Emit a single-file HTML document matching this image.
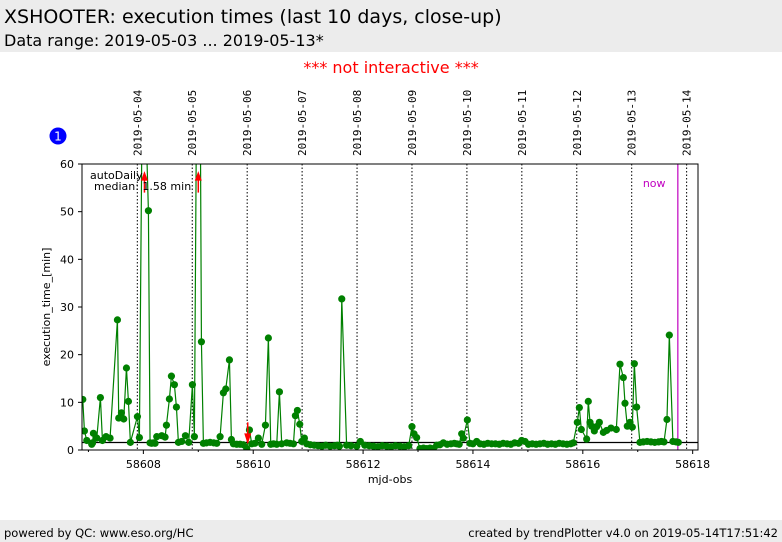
<!DOCTYPE html>
<html><head><meta charset="utf-8"><style>
body{margin:0;width:782px;height:542px;background:#fff;font-family:"DejaVu Sans","Liberation Sans",sans-serif;position:relative;overflow:hidden}
#hdr{position:absolute;left:0;top:0;width:782px;height:52px;background:#ececec}
#t1{position:absolute;left:4px;top:6px;font-size:19px;color:#000}
#t2{position:absolute;left:4px;top:31px;font-size:16px;color:#000}
#ni{position:absolute;left:0;width:782px;top:58px;text-align:center;color:#f00;font-size:16px}
#ftr{position:absolute;left:0;top:520px;width:782px;height:22px;background:#ececec;font-size:11.5px}
#ftr span{position:absolute;top:6px}
</style></head><body>
<div id="hdr">
<div id="t1">XSHOOTER: execution times (last 10 days, close-up)</div>
<div id="t2">Data range: 2019-05-03 ... 2019-05-13*</div></div>
<div id="ni">*** not interactive ***</div>
<svg id="ch" width="782" height="542" style="position:absolute;left:0;top:0"></svg>
<div id="ftr"><span style="left:4px">powered by QC: www.eso.org/HC</span><span style="right:4px">created by trendPlotter v4.0 on 2019-05-14T17:51:42</span></div>
<script>
const mjd=[58606.897,58606.927,58606.97,58607.06,58607.075,58607.091,58607.152,58607.218,58607.255,58607.321,58607.394,58607.528,58607.552,58607.601,58607.643,58607.692,58607.728,58607.764,58607.892,58607.928,58607.983,58608.019,58608.092,58608.122,58608.15,58608.183,58608.213,58608.244,58608.335,58608.395,58608.420,58608.474,58608.511,58608.565,58608.602,58608.638,58608.699,58608.766,58608.826,58608.893,58608.929,58608.972,58609.033,58609.057,58609.093,58609.15,58609.215,58609.28,58609.336,58609.397,58609.457,58609.500,58609.567,58609.603,58609.639,58609.70,58609.761,58609.82,58609.882,58609.931,58609.973,58610.03,58610.094,58610.155,58610.222,58610.276,58610.319,58610.37,58610.428,58610.477,58610.519,58610.610,58610.67,58610.732,58610.768,58610.804,58610.847,58610.883,58610.932,58610.974,58611.04,58611.11,58611.18,58611.25,58611.32,58611.40,58611.48,58611.53,58611.569,58611.612,58611.70,58611.78,58611.885,58611.95,58612.03,58612.11,58612.19,58612.27,58612.35,58612.43,58612.51,58612.59,58612.67,58612.75,58612.83,58612.89,58612.927,58612.975,58613.036,58613.10,58613.16,58613.22,58613.279,58613.340,58613.40,58613.461,58613.53,58613.60,58613.66,58613.704,58613.75,58613.795,58613.825,58613.898,58613.946,58614.00,58614.068,58614.13,58614.20,58614.27,58614.34,58614.41,58614.48,58614.55,58614.62,58614.69,58614.76,58614.83,58614.887,58614.948,58615.01,58615.08,58615.15,58615.22,58615.29,58615.36,58615.43,58615.50,58615.57,58615.64,58615.71,58615.78,58615.827,58615.900,58615.937,58615.973,58616.070,58616.100,58616.131,58616.161,58616.210,58616.252,58616.301,58616.374,58616.434,58616.513,58616.610,58616.677,58616.738,58616.768,58616.810,58616.859,58616.901,58616.938,58616.980,58617.04,58617.10,58617.17,58617.24,58617.31,58617.38,58617.43,58617.478,58617.532,58617.575,58617.64,58617.70,58617.739];
const val=[10.6,4,2,1.2,1.5,3.5,2.5,11,2,2.8,2.5,27.3,6.7,7.8,6.5,17.2,10.2,1.6,7,2.6,80,80,50.2,1.5,1.4,1.5,1.4,2.8,3,2.7,5.2,10.7,15.5,13.7,9,1.6,1.8,3,1.6,13.7,2.8,80,80,22.7,1.4,1.5,1.6,1.5,1.4,2.8,12,12.8,18.9,2.2,1.3,1.2,1.2,1.1,0.3,4.2,1.3,1.4,2.5,1.2,5.2,23.5,1.2,1.3,1.2,12.2,1.3,1.5,1.4,1.3,7.2,8.3,5.4,1.8,2.5,1.3,1.1,1,0.9,0.8,1,0.8,0.9,1,0.8,31.7,1,0.9,0.8,1.8,1,0.9,0.8,0.7,0.9,0.8,0.7,0.9,0.8,0.7,0.9,4.9,3.4,2.6,0.3,0.4,0.3,0.4,0.3,1.0,1.1,1.5,1.2,1.3,1.4,1.3,1.2,3.4,2.5,6.3,1.4,1.3,1.8,1.3,1.2,1.4,1.3,1.3,1.2,1.4,1.3,1.2,1.5,1.4,2.0,1.8,1.2,1.3,1.2,1.3,1.4,1.2,1.3,1.2,1.4,1.3,1.2,1.3,1.5,5.8,8.9,4.3,2.3,10.2,5.8,5,4,4.9,5.8,3.7,4.1,4.6,4.3,18,15.2,9.8,5,5.8,4.8,18.1,9,1.6,1.7,1.8,1.7,1.6,1.7,1.8,1.7,6.4,24.1,1.8,1.7,1.6,1.6];
const arrowsUp=[58608.02,58609.00];
const arrowsDown=[58609.90];
const dateLabels=["2019-05-04","2019-05-05","2019-05-06","2019-05-07","2019-05-08","2019-05-09","2019-05-10","2019-05-11","2019-05-12","2019-05-13","2019-05-14"];
const xTicks=[58608,58610,58612,58614,58616,58618];
const yTicks=[0,10,20,30,40,50,60];
const median=1.58, nowMjd=58617.73, firstDate=58607.89;
const X0=82,X1=698,Y0=450,Y1=164,XMIN=58606.883,XMAX=58618.097,YMAX=60;
const sx=v=>X0+(v-XMIN)/(XMAX-XMIN)*(X1-X0);
const sy=v=>Y0-v/YMAX*(Y0-Y1);
const svg=document.getElementById('ch');const NS='http://www.w3.org/2000/svg';
function mk(t,a,p){const e=document.createElementNS(NS,t);for(const k in a)e.setAttribute(k,a[k]);(p||svg).appendChild(e);return e;}
const cp=mk('clipPath',{id:'cp'});mk('rect',{x:X0,y:Y1,width:X1-X0,height:Y0-Y1},cp);
dateLabels.forEach((d,i)=>{const x=sx(firstDate+i);
 const l=mk('line',{x1:x,x2:x,y1:Y1,y2:Y0,stroke:'#000','stroke-width':1,'stroke-dasharray':'1.5,2'});
 
 const t=mk('text',{x:0,y:0,transform:`translate(${x+4},156) rotate(-90)`,'font-size':11,'font-family':'"DejaVu Sans Mono","Liberation Mono",monospace',fill:'#000'});
 t.textContent=d;});
const md=mk('line',{x1:X0,x2:X1,y1:sy(median),y2:sy(median),stroke:'#000','stroke-width':1.2});

const nw=mk('line',{x1:sx(nowMjd),x2:sx(nowMjd),y1:Y1,y2:Y0,stroke:'#c000c0','stroke-width':1.2});

const nt=mk('text',{x:sx(nowMjd)-35,y:187,'font-size':11,fill:'#c000c0'});nt.textContent='now';

const g=mk('g',{'clip-path':'url(#cp)'});
const pts=mjd.map((m,i)=>sx(m)+','+sy(val[i])).join(' ');
const pl=mk('polyline',{points:pts,fill:'none',stroke:'#008000','stroke-width':1.2},g);

mjd.forEach((m,i)=>{const c=mk('circle',{cx:sx(m),cy:sy(val[i]),r:3.6,fill:'#008000'},g);
 });
arrowsUp.forEach(m=>{const x=sx(m);const a=mk('g',{});
 mk('line',{x1:x,x2:x,y1:sy(54),y2:sy(58),stroke:'#f00','stroke-width':1.5},a);
 mk('polygon',{points:`${x-3.5},${sy(56.5)} ${x+3.5},${sy(56.5)} ${x},${sy(58.5)}`,fill:'#f00'},a);});
arrowsDown.forEach(m=>{const x=sx(m);const a=mk('g',{});
 mk('line',{x1:x,x2:x,y1:sy(5.8),y2:sy(1.5),stroke:'#f00','stroke-width':1.5},a);
 mk('polygon',{points:`${x-3.5},${sy(3.5)} ${x+3.5},${sy(3.5)} ${x},${sy(1.2)}`,fill:'#f00'},a);});
const fr=mk('rect',{x:X0,y:Y1,width:X1-X0,height:Y0-Y1,fill:'none',stroke:'#000','stroke-width':1});

yTicks.forEach(v=>{const y=sy(v);mk('line',{x1:X0-4,x2:X0,y1:y,y2:y,stroke:'#000'});
 const t=mk('text',{x:X0-8,y:y+4,'text-anchor':'end','font-size':11,fill:'#000'});t.textContent=v;
 });
for(let m=58607;m<=58618;m++){const x=sx(m);mk('line',{x1:x,x2:x,y1:Y0,y2:Y0+(m%2==0?4:2),stroke:'#000'});}
xTicks.forEach(v=>{const x=sx(v);const t=mk('text',{x:x,y:Y0+18,'text-anchor':'middle','font-size':11,fill:'#000'});t.textContent=v;
 });
const xt=mk('text',{x:390,y:483,'text-anchor':'middle','font-size':11});xt.textContent='mjd-obs';

const yt=mk('text',{x:0,y:0,transform:'translate(50,307) rotate(-90)','text-anchor':'middle','font-size':11});yt.textContent='execution_time_[min]';

const a1=mk('text',{x:90,y:179,'font-size':11});a1.textContent='autoDaily';

const a2=mk('text',{x:94,y:190,'font-size':11});a2.textContent='median: 1.58 min';

const bd=mk('circle',{cx:58,cy:136,r:8.5,fill:'#0000ff'});
const bt=mk('text',{x:58,y:140.5,'text-anchor':'middle','font-size':12,fill:'#fff'});bt.textContent='1';

</script>
</body></html>
